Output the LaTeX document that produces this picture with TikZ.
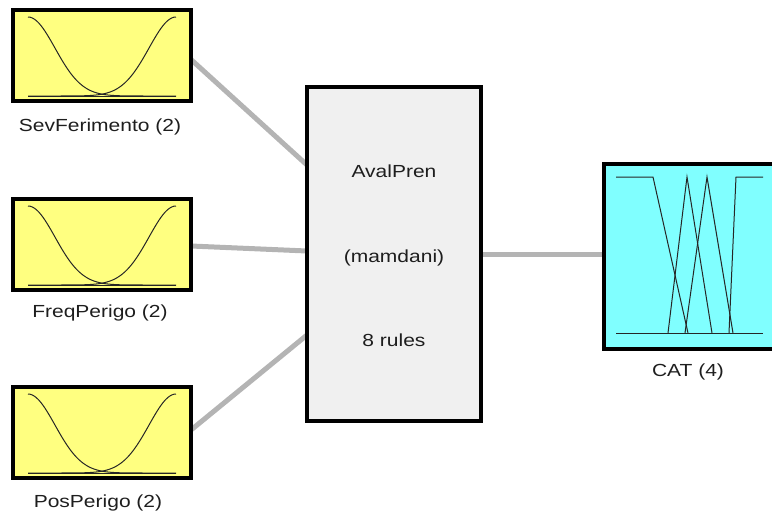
\documentclass[tikz,border=0pt]{standalone}
\usepackage{fontspec}
\setmainfont[FakeStretch=1.2]{Liberation Sans}
\usetikzlibrary{calc}
\pgfdeclarelayer{bg}
\pgfsetlayers{bg,main}
\definecolor{inyel}{RGB}{255,255,128}
\definecolor{outcyan}{RGB}{128,255,255}
\definecolor{engray}{RGB}{240,240,240}
\definecolor{wire}{RGB}{180,180,180}
\definecolor{txt}{RGB}{30,30,30}
\tikzset{
  varbox/.style={draw=black, line width=4pt, inner sep=0pt, outer sep=0pt},
  inbox/.style={varbox, fill=inyel, minimum width=178pt, minimum height=91pt},
  engbox/.style={varbox, fill=engray, minimum width=174pt, minimum height=334pt},
  outbox/.style={varbox, fill=outcyan, minimum width=186pt, minimum height=185pt},
  lbl/.style={text=txt, inner sep=0pt, font=\fontsize{17.5}{20}\selectfont},
  mfline/.style={draw=black!85, line width=1pt, line join=miter},
  wireline/.style={draw=wire, line width=5pt}
}
\newcommand\drawgauss[2]{% #1 = curve top, #2 = baseline
  \draw[mfline] (28,#2) -- (176,#2);
  \draw[mfline] plot[domain=0:148, samples=70, smooth] ({28+\x}, {#2-(#2-#1)*exp(-0.5*(\x/27)^2)});
  \draw[mfline] plot[domain=0:148, samples=70, smooth] ({28+\x}, {#2-(#2-#1)*exp(-0.5*((148-\x)/27)^2)});
}
\begin{document}
\begin{tikzpicture}[x=1pt, y=-1pt]
\useasboundingbox (0,0) rectangle (772,515);
\clip (0,0) rectangle (772,515);

% input boxes
\node[inbox] (sev) at (102,55.5) {};
\node[inbox] (freq) at (102,244.5) {};
\node[inbox] (pos) at (102,432.5) {};
\drawgauss{17}{96}
\drawgauss{206}{285}
\drawgauss{394}{473}

\node[lbl] (lsev) at (100,127) {SevFerimento (2)};
\node[lbl] (lfreq) at (100,313) {FreqPerigo (2)};
\node[lbl] (lpos) at (98,503) {PosPerigo (2)};

% engine box
\node[engbox] (eng) at (394,254) {};
\node[lbl] (t1) at (394,171) {AvalPren};
\node[lbl] (t2) at (394,258) {(mamdani)};
\node[lbl] (t3) at (394,340) {8 rules};

% output box
\node[outbox] (cat) at (697,256.5) {};
\draw[mfline] (616,333) -- (763,333);
\draw[mfline] (616,177) -- (653,177) -- (688,333);
\draw[mfline] (668,333) -- (687,177) -- (712,333);
\draw[mfline] (685,333) -- (707,177) -- (733,333);
\draw[mfline] (729,333) -- (736,177) -- (763,177);
\node[lbl] (lcat) at (688,372) {CAT (4)};

% connectors
\begin{pgfonlayer}{bg}
  \draw[wireline] ([yshift=-4pt]sev.east) -- ([yshift=89pt]eng.west);
  \draw[wireline] ([yshift=-1.5pt]freq.east) -- ([yshift=3pt]eng.west);
  \draw[wireline] ([yshift=2.5pt]pos.east) -- ([yshift=-81pt]eng.west);
  \draw[wireline] (eng.east) -- (eng.east -| cat.west);
\end{pgfonlayer}
\end{tikzpicture}
\end{document}
